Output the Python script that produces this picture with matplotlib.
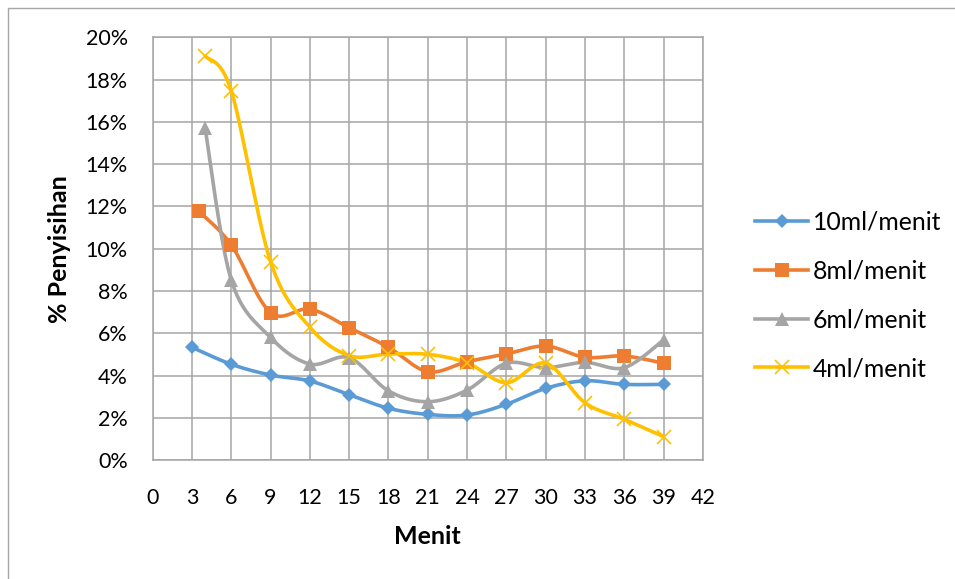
import matplotlib.pyplot as plt
import numpy as np
from matplotlib.lines import Line2D
from matplotlib.patches import Rectangle
from matplotlib.ticker import FuncFormatter, MultipleLocator

plt.rcParams['font.family'] = ['Lato', 'DejaVu Sans']

# waktu (menit) dan % penyisihan per laju alir
menit_10 = [3, 6, 9, 12, 15, 18, 21, 24, 27, 30, 33, 36, 39]
penyisihan_10 = [5.34, 4.54, 4.03, 3.75, 3.10, 2.46, 2.17, 2.14, 2.65, 3.40, 3.76, 3.59, 3.59]

menit_8 = [3.5, 6, 9, 12, 15, 18, 21, 24, 27, 30, 33, 36, 39]
penyisihan_8 = [11.79, 10.18, 6.98, 7.15, 6.27, 5.34, 4.19, 4.66, 5.03, 5.40, 4.87, 4.93, 4.59]

menit_6 = [4, 6, 9, 12, 15, 18, 21, 24, 27, 30, 33, 36, 39]
penyisihan_6 = [15.70, 8.52, 5.81, 4.55, 4.85, 3.28, 2.77, 3.32, 4.59, 4.38, 4.63, 4.38, 5.69]

menit_4 = [4, 6, 9, 12, 15, 18, 21, 24, 27, 30, 33, 36, 39]
penyisihan_4 = [19.12, 17.46, 9.39, 6.29, 4.95, 5.03, 5.01, 4.61, 3.67, 4.59, 2.72, 1.94, 1.12]

labels = ['10ml/menit', '8ml/menit', '6ml/menit', '4ml/menit']
colors = ['#5B9BD5', '#ED7D31', '#A5A5A5', '#FFC000']
markers = ['D', 's', '^', 'x']
marker_sizes = [7.5, 9.5, 9.5, 9.5]


def smooth(x, y, n=30):
    # bezier halus ala excel (catmull-rom, faktor 1/6)
    p = np.column_stack([x, y]).astype(float)
    ext = np.vstack([p[0], p, p[-1]])
    t = np.linspace(0, 1, n)[:, None]
    out = []
    for i in range(len(p) - 1):
        p0, p3 = ext[i + 1], ext[i + 2]
        c1 = p0 + (ext[i + 2] - ext[i]) / 6
        c2 = p3 - (ext[i + 3] - ext[i + 1]) / 6
        seg = ((1 - t) ** 3) * p0 + 3 * ((1 - t) ** 2) * t * c1 \
            + 3 * (1 - t) * t ** 2 * c2 + t ** 3 * p3
        out.append(seg if i == 0 else seg[1:])
    out = np.vstack(out)
    return out[:, 0], out[:, 1]


fig = plt.figure(figsize=(9.55, 5.79), dpi=100)
fig.patches.append(Rectangle((8 / 955, -0.1), 1.5, 1.1 - 8 / 579,
                             transform=fig.transFigure, fill=False,
                             edgecolor='#A6A6A6', linewidth=1.0))

ax = fig.add_axes([0.1599, 0.2050, 0.5761, 0.7306])

series = [
    (menit_10, penyisihan_10),
    (menit_8, penyisihan_8),
    (menit_6, penyisihan_6),
    (menit_4, penyisihan_4),
]

handles = []
for (xs, ys), label, color, marker, ms in zip(series, labels, colors, markers, marker_sizes):
    sx, sy = smooth(xs, ys)
    ax.plot(sx, sy, color=color, linewidth=2.6, solid_capstyle='round', zorder=3)
    mew = 1.2 if marker == 'x' else 0
    ax.plot(xs, ys, linestyle='none', marker=marker, markersize=ms,
            color=color, markeredgecolor=color, markeredgewidth=mew, zorder=4)
    handles.append(Line2D([], [], color=color, linewidth=2.6, marker=marker,
                          markersize=ms, markeredgecolor=color,
                          markeredgewidth=mew, label=label))

ax.set_xlim(0, 42)
ax.set_ylim(0, 20)
ax.xaxis.set_major_locator(MultipleLocator(3))
ax.yaxis.set_major_locator(MultipleLocator(2))
ax.yaxis.set_major_formatter(FuncFormatter(lambda v, _: f'{v:.0f}%'))
ax.grid(True, color='#A6A6A6', linewidth=1.1)
ax.set_axisbelow(True)
for spine in ax.spines.values():
    spine.set_color('#A6A6A6')
    spine.set_linewidth(1.1)
ax.tick_params(length=0, labelsize=15.5, colors='black')
ax.tick_params(axis='x', pad=20)
ax.tick_params(axis='y', pad=18)

ax.set_xlabel('Menit', fontsize=18, fontweight='bold', va='center')
ax.xaxis.set_label_coords(0.5, -0.181)
ax.set_ylabel('% Penyisihan', fontsize=18, fontweight='bold', va='center')
ax.yaxis.set_label_coords(-0.1685, 0.5)

fig.legend(handles=handles, loc='center left', bbox_to_anchor=(0.7906, 0.4896),
           frameon=False, fontsize=17.8, handlelength=2.15, handletextpad=0.2,
           labelspacing=1.04, borderpad=0, borderaxespad=0, numpoints=1)

fig.savefig('out.png', dpi=100)
